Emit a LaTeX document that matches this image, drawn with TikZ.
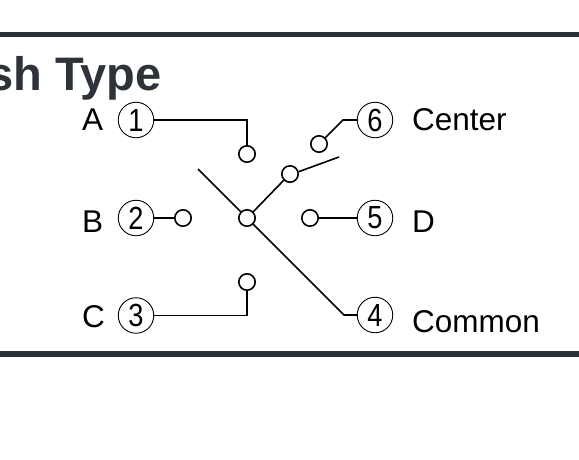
\documentclass[tikz,border=0pt]{standalone}
\usepackage{fontspec}
\setmainfont{Liberation Sans}
\definecolor{barcol}{HTML}{2E3239}
\tikzset{
  pin/.style={circle,draw=black,line width=0.9pt,fill=white,inner sep=0pt,minimum size=35.5pt,font=\fontsize{32}{32}\selectfont},
  contact/.style={circle,draw=black,line width=1.6pt,fill=white,inner sep=0pt,minimum size=16.4pt},
  wire/.style={draw=black,line width=1.6pt,line join=miter},
  lab/.style={inner sep=0pt,anchor=base west,font=\fontsize{31.5}{31.5}\selectfont,text=black},
  bar/.style={fill=barcol,draw=none},
  title/.style={inner sep=0pt,anchor=base east,font=\fontsize{47}{47}\selectfont\bfseries,text=barcol,draw=none}
}
\newcommand{\pinnum}[1]{\scalebox{0.85}[1]{#1}}
\begin{document}
\begin{tikzpicture}[x=1pt,y=-1pt]
\useasboundingbox (0,0) rectangle (579,459);
\fill[bar] (0,31.5) rectangle (579,36.8);
\fill[bar] (0,351) rectangle (579,356.5);
\begin{scope}
\clip (0,0) rectangle (579,459);
\node[title] (ttl) at (161.5,90) {sh Type};
\end{scope}
% bends and free ends
\coordinate (b6) at (343,120);
\coordinate (b4) at (344,315);
\coordinate (e1) at (198,169);
\coordinate (e2) at (339,157);
\node[pin] (p1) at (136,120) {\pinnum{1}};
\node[pin] (p2) at (136,218) {\pinnum{2}};
\node[pin] (p3) at (136,315.5) {\pinnum{3}};
\node[pin] (p4) at (375,315) {\pinnum{4}};
\node[pin] (p5) at (375,218) {\pinnum{5}};
\node[pin] (p6) at (375,120) {\pinnum{6}};
\node[contact] (ca) at (247,154) {};
\node[contact] (cb) at (183,218) {};
\node[contact] (cc) at (247,282) {};
\node[contact] (cd) at (310,218) {};
\node[contact] (ce) at (319,144) {};
\node[contact] (cm) at (247,218) {};
\node[contact] (cs) at (290,174) {};
\draw[wire] (p1.east) -- (ca.north |- p1.east) -- (ca.north);
\draw[wire] (p2.east) -- (cb.west);
\draw[wire] (p3.east) -- (cc.south |- p3.east) -- (cc.south);
\draw[wire] (p5.west) -- (cd.east);
\draw[wire] (p6.west) -- (b6) -- (ce.north east);
\draw[wire] (p4.west) -- (b4) -- (cm.south east);
\draw[wire] (cm.north west) -- (e1);
\draw[wire] (cm.north east) -- (cs.south west);
\draw[wire] (cs.15) -- (e2);
\node[lab] (la) at (82,130) {A};
\node[lab] (lb) at (82,232) {B};
\node[lab] (lc) at (82,327) {C};
\node[lab] (ld) at (412,232.5) {D};
\node[lab] (lce) at (412,130) {Center};
\node[lab] (lco) at (412,332) {Common};
\end{tikzpicture}
\end{document}
